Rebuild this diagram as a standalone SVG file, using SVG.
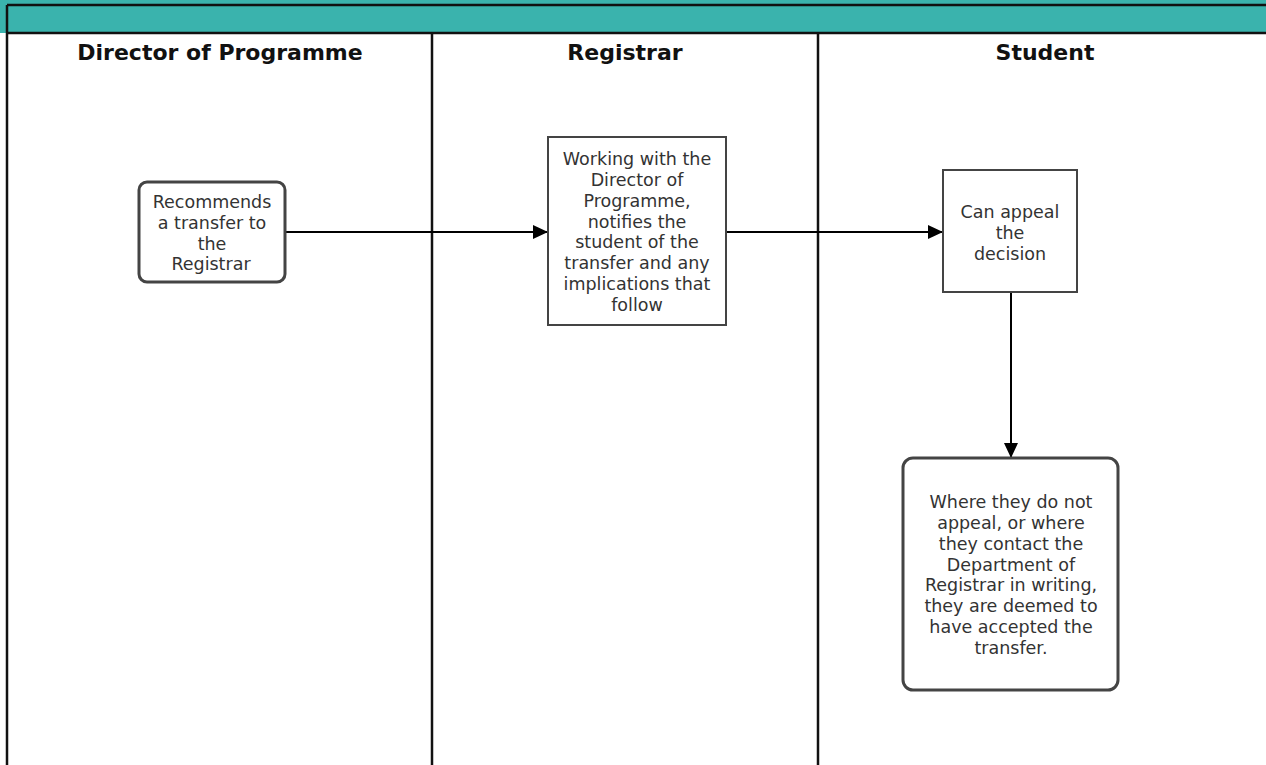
<svg xmlns="http://www.w3.org/2000/svg" width="1266" height="765" viewBox="0 0 1266 765">
<defs>
<style>
.lane{stroke:#111;stroke-width:2.5;fill:none}
.hdr{font-family:"DejaVu Sans",Verdana,sans-serif;font-weight:bold;font-size:22px;fill:#111;text-anchor:middle}
.box{fill:#fff;stroke:#444;stroke-width:2}
.rbox{fill:#fff;stroke:#444;stroke-width:3}
.txt{font-family:"DejaVu Sans",Verdana,sans-serif;font-size:17.5px;fill:#333;text-anchor:middle}
.conn{stroke:#000;stroke-width:2;fill:none}
</style>
<marker id="arr2" markerWidth="16" markerHeight="14" refX="15" refY="7" orient="auto" markerUnits="userSpaceOnUse">
<path d="M0,0 L15,7 L0,14 Z" fill="#000"/>
</marker>
</defs>
<rect x="0" y="0" width="1266" height="765" fill="#fff"/>
<g id="pool">
<rect x="0" y="0" width="1266" height="33" fill="#3AB3AD"/>
<line x1="7" y1="5" x2="1266" y2="5" class="lane" stroke-width="2"/>
<line x1="7" y1="33" x2="1266" y2="33" class="lane" stroke-width="2"/>
<line x1="7" y1="5" x2="7" y2="765" class="lane"/>
<line x1="432" y1="33" x2="432" y2="765" class="lane"/>
<line x1="818" y1="33" x2="818" y2="765" class="lane"/>
<text class="hdr" x="220" y="60">Director of Programme</text>
<text class="hdr" x="625" y="60">Registrar</text>
<text class="hdr" x="1045" y="60">Student</text>
</g>
<g id="connectors">
<line class="conn" x1="285" y1="232" x2="548" y2="232" marker-end="url(#arr2)"/>
<line class="conn" x1="726" y1="232" x2="943" y2="232" marker-end="url(#arr2)"/>
<line class="conn" x1="1011" y1="292" x2="1011" y2="458" marker-end="url(#arr2)"/>
</g>
<g id="n1">
<rect class="rbox" x="139" y="182" width="146" height="100" rx="8"/>
<text class="txt" x="212" y="208">Recommends</text>
<text class="txt" x="212" y="229">a transfer to</text>
<text class="txt" x="212" y="250">the</text>
<text class="txt" x="211" y="270">Registrar</text>
</g>
<g id="n2">
<rect class="box" x="548" y="137" width="178" height="188"/>
<text class="txt" x="637" y="165">Working with the</text>
<text class="txt" x="637" y="186">Director of</text>
<text class="txt" x="637" y="207">Programme,</text>
<text class="txt" x="637" y="228">notifies the</text>
<text class="txt" x="637" y="248">student of the</text>
<text class="txt" x="637" y="269">transfer and any</text>
<text class="txt" x="637" y="290">implications that</text>
<text class="txt" x="637" y="311">follow</text>
</g>
<g id="n3">
<rect class="box" x="943" y="170" width="134" height="122"/>
<text class="txt" x="1010" y="218">Can appeal</text>
<text class="txt" x="1010" y="239">the</text>
<text class="txt" x="1010" y="260">decision</text>
</g>
<g id="n4">
<rect class="rbox" x="903" y="458" width="215" height="232" rx="10"/>
<text class="txt" x="1011" y="508">Where they do not</text>
<text class="txt" x="1011" y="529">appeal, or where</text>
<text class="txt" x="1011" y="550">they contact the</text>
<text class="txt" x="1011" y="571">Department of</text>
<text class="txt" x="1011" y="591">Registrar in writing,</text>
<text class="txt" x="1011" y="612">they are deemed to</text>
<text class="txt" x="1011" y="633">have accepted the</text>
<text class="txt" x="1011" y="654">transfer.</text>
</g>
</svg>
